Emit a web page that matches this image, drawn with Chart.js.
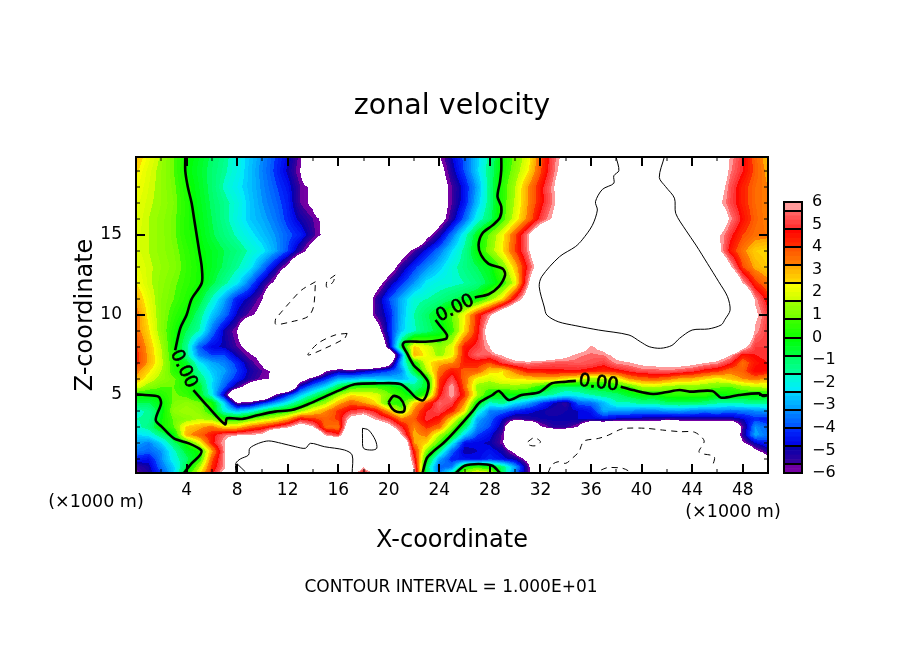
<!DOCTYPE html>
<html>
<head>
<meta charset="utf-8">
<style>
  html, body { margin: 0; background: #fff; }
  #wrap { position: relative; width: 904px; height: 654px; overflow: hidden; }
  canvas { position: absolute; display: block; }
</style>
<script src="https://cdn.jsdelivr.net/npm/chart.js@4"></script>
</head>
<body>
<div id="wrap">
  <canvas id="main" width="904" height="654" style="left:0;top:0"></canvas>
  <canvas id="bar" width="60" height="311" style="left:780px;top:182px"></canvas>
</div>
<script>
// velocity, node per km in x, beyond +-6 is left white
const xNodes = [0,1,2,3,4,5,6,7,8,9,10,11,12,13,14,15,16,17,18,19,20,21,22,23,24,25,26,27,28,29,30,31,32,33,34,35,36,37,38,39,40,41,42,43,44,45,46,47,48,49,50];
const zNodes = [0.125,0.5,1,1.5,2,2.5,3,3.5,4,4.5,5,5.5,6,6.5,7,7.5,8,9,10,11,12,13,14,15,16,17,18,19,19.875];

const rowZ00 = [-5.8,-5.2,-4,-2.5,0,2.2,4.5,6.5,9,9, 9,9,9,9,9,9,9,7,4.5,6.5, 9,9,6.1,-1,-3.5,-1.5,1.5,2.5,2,-1, -3.5,-5.5,-9,-9,-9,-9,-9,-9,-9,-9, -9,-9,-9,-9,-9,-9,-9,-9,-6.5,-5,-5];
const rowZ05 = [-5.5,-5,-3.6,-2.5,-.7,1.5,4.2,5.8,9,9, 9,9,9,9,9,9,9,9,6.1,9, 9,9,5.8,-1,-3.8,-3.5,0,.5,0,-1, -3,-5.5,-9,-9,-9,-9,-9,-9,-9,-9, -9,-9,-9,-9,-9,-9,-9,-9,-9,-9,-9];
const rowZ10 = [-4.3,-4.6,-3.3,-2,-1,.2,3.8,5.8,9,9, 9,9,9,9,9,9,9,9,9,9, 9,9,5,0,-3,-4.3,-4.5,-4.7,-4.2,-4.6, -5,-6.5,-9,-9,-9,-9,-9,-9,-9,-9, -9,-9,-9,-9,-9,-9,-9,-9,-9,-9,-6.2];
const rowZ15 = [-3.5,-3.7,-3.2,-1.8,-.5,0,3,5.8,9,9, 9,9,9,9,9,9,9,9,9,9, 9,9,4.4,1.2,-1.2,-3.7,-5,-4.8,-4.5,-5, -6.5,-9,-9,-9,-9,-9,-9,-9,-9,-9, -9,-9,-9,-9,-9,-9,-9,-9,-9,-6.3,-5.2];
const rowZ20 = [-3,-3.4,-2.5,-1,.2,2,4.5,6,9,9, 9,9,9,9,9,9,9,9,9,9, 9,9,3.2,2.5,.6,-2,-4.6,-4.7,-4.9,-5.8, -9,-9,-9,-9,-9,-9,-9,-9,-9,-9, -9,-9,-9,-9,-9,-9,-9,-9,-6.2,-4.8,-4.2];
const rowZ25 = [-2.5,-2.2,-1.2,-.2,3,3.7,4.5,5.5,5.8,6, 6.3,9,9,9,9,5.8,5,9,9,9, 9,6,3,3.4,1.6,0,-2.5,-4,-4.6,-5.7, -9,-9,-9,-9,-9,-9,-9,-9,-9,-9, -9,-9,-9,-9,-9,-9,-9,-9,-5.3,-3,-3.6];
const rowZ30 = [-1.8,-1.3,0,.8,2.6,3,3.5,2.5,2.6,3.6, 4.2,5,5.8,7,6.1,3.6,3.4,8,9,8, 6.6,4.9,3.2,4.2,3.6,1.2,-1,-3.3,-4,-5.2, -9,-9,-6.2,-5.3,-5.3,-6.1,-9,-9,-9,-9, -9,-9,-9,-9,-9,-9,-9,-9,-5.6,-3.2,-3.8];
const rowZ35 = [-1.6,-1.5,-.1,.9,1.2,1.6,1.3,.2,.2,.8, 1.5,2,3,4.7,4.2,3.7,4.1,6.5,7,5.8, 5,3.5,3.8,5,4.5,2.5,.3,-3,-3.7,-4.8, -5.6,-5.2,-5,-4.9,-4.9,-4.8,-4.8,-4.6,-4.9,-5, -5.1,-5.2,-5.4,-5.3,-5.2,-5.2,-5.2,-5.2,-4.8,-4.2,-4.4];
const rowZ40 = [-1.8,-1.5,-.3,1.3,1.6,1.3,.2,-1.9,-2.7,-2.1, -1,-.2,.2,1.3,2.4,3.2,4.2,4.9,5.3,4.6, 3,1.2,3.4,4.8,5.2,4.4,2.4,-1.6,-3.4,-3.6, -4.2,-4.6,-4.9,-5.2,-5,-4.8,-4.5,-3,-3.3,-3.2, -3.5,-3.4,-3.2,-3.1,-3.4,-3.5,-3.4,-3.6,-3.5,-3.3,-3.1];
const rowZ45 = [-.8,-.8,-.2,1,1.3,1,.1,-2.5,-5.9,-5.6, -4.3,-3.1,-2,-.9,.5,1.5,2.9,3.8,3.2,2.4, .5,.2,2.6,4,5.5,5.1,3.2,0,-1.8,-1.3, -2.3,-3,-4,-4.8,-5.4,-3.8,-3.6,-2.8,-1.7,-1.7, -1.3,-1.4,-1,-.9,-1,-1.1,-1.5,-1.5,-1.5,-1.3,-1.4];
const rowZ50 = [0,0,.3,.9,.6,-.3,-2,-5,-9,-9, -9,-6,-4.2,-2.6,-1.4,-.2,1.4,2.4,2.2,2, 1,.4,-.5,.6,4.6,5.9,4.2,1.6,0,-.4, -.1,-.5,-1.2,-1.6,-2.2,-2,-1.6,-1.2,-1.1,-.5, -.1,-.1,.3,.4,.4,.4,-.2,0,0,0,-.1];
const rowZ55 = [2,1.2,.8,.8,.3,-.3,-2.4,-3.8,-5.4,-7, -9,-9,-9,-4.6,-3.3,-2.3,-.8,.3,.7,.6, .3,-.3,-1.3,-.5,4.2,6,3.7,1.3,1,1.2, 1.3,1.1,.3,-.6,-1,-.9,-.3,-.4,.1,.6, 1.5,1.7,1.3,1.2,1.3,1,.9,.7,1.3,1.6,1.8];
const rowZ60 = [3,2,1.3,.9,.2,-1,-2.3,-3.4,-4.3,-5.2, -5.8,-6.2,-9,-7,-5.3,-4.2,-2.9,-2.8,-2.5,-2.6, -2.7,-2.8,-2.2,-.2,4,5.2,3.6,2.1,1.8,2.3, 2.4,2.5,2.8,2.8,2.3,2,1.3,1.5,1.9,3.2, 3.6,3.8,3.5,3,2.9,2.5,2.1,2.7,3.2,3.5,3];
const rowZ65 = [3.5,2.5,1.6,.4,-.1,-1.6,-2.6,-3.1,-4,-5, -5.6,-6.3,-9,-9,-9,-6.1,-5.2,-5.5,-5,-4.5, -4,-3.3,-.6,1.6,3.5,4.5,3.8,3.8,2.6,2.4, 3.5,4.5,4.5,4.6,4.7,4.7,4.5,4.2,4.5,4.9, 5.3,5.3,5.5,5.3,5,4.5,4.2,3.5,3.7,4.8,4.6];
const rowZ70 = [4.3,3,1.8,.3,-.4,-2.2,-3,-3.4,-4.2,-5.3, -6.2,-9,-9,-9,-9,-9,-9,-9,-9,-9, -7,-2.6,0,2.1,3,3.2,4.4,4.4,3.9,5, 5.6,5.7,5.5,5.3,5.3,5.4,5.3,5,5.7,5.9, 6.3,6.5,6.6,6.6,6.4,6,5.7,4.9,3.5,4.5,4.8];
const rowZ75 = [4.3,3,1.7,.2,-1.3,-3.4,-4,-4,-5,-5.9, -6.4,-9,-9,-9,-9,-9,-9,-9,-9,-9, -9,-3.5,3,2.2,1.3,2.1,4.6,5.5,5.4,6.1, 7,7.5,7.5,7,6.4,5.7,5.5,5.6,6.4,7, 9,9,9,9,9,8,7,6.1,4.5,4.8,5];
const rowZ80 = [4.2,2.9,1.6,.1,-1.4,-3.8,-4.7,-4.9,-5.6,-6.5, -9,-9,-9,-9,-9,-9,-9,-9,-9,-9, -5.2,-.5,2.6,2,1.2,2,4.5,5,6,9, 9,9,9,9,9,7,5.8,6.6,9,9, 9,9,9,9,9,9,9,9,6.5,5,5];
const rowZ90 = [3.6,2.5,1.2,.2,-.8,-1.6,-3.5,-5,-6,-9, -9,-9,-9,-9,-9,-9,-9,-9,-9,-7, -4.5,-2.6,-1.7,-1.1,-.5,.5,2.5,4.5,7,9, 9,9,9,9,9,9,9,9,9,9, 9,9,9,9,9,9,9,9,9,5.8,5];
const rowZ100 = [3.6,2.2,1.2,.5,-.1,-1.2,-2.6,-3.6,-4.9,-5.8, -6.5,-9,-9,-9,-9,-9,-9,-9,-7.5,-5.5, -4.5,-2.8,-1.6,-.9,-.2,.9,2.3,4.3,5.8,8, 9,9,9,9,9,9,9,9,9,9, 9,9,9,9,9,9,9,9,9,6.3,5];
const rowZ110 = [3,2,1.2,.8,.3,-.4,-1.7,-3,-4.4,-5, -6,-9,-9,-9,-9,-9,-9,-9,-7.5,-5.4, -4,-2.9,-1.8,-1.6,-1.3,-.9,-.5,-.1,1.2,2.5, 5,7,9,9,9,9,9,9,9,9, 9,9,9,9,9,9,9,9,9,5.8,4.4];
const rowZ120 = [2.4,1.7,1.3,.9,.5,.1,-.6,-1.4,-2.2,-3.6, -5,-6.3,-9,-9,-9,-9,-9,-9,-9,-6.8, -5.2,-4.2,-3.2,-2.2,-1.9,-1.8,-1.6,-1.2,-.6,.3, 2,5.7,9,9,9,9,9,9,9,9, 9,9,9,9,9,9,9,9,6,4.2,3.4];
const rowZ130 = [2.1,1.7,1.4,1.1,.6,.1,-.4,-.9,-1.5,-2.1, -3.4,-4.8,-6.3,-9,-9,-9,-9,-9,-9,-9, -7,-5.3,-4.2,-3.3,-2.6,-1.8,-1.3,-.8,-.3,1, 2.8,4.9,7,9,9,9,9,9,9,9, 9,9,9,9,9,9,9,6.3,4,3,2.6];
const rowZ140 = [1.9,1.6,1.3,1,.5,0,-.4,-.8,-1.2,-1.7, -2.2,-3,-4,-5.4,-6.9,-9,-9,-9,-9,-9, -9,-7,-5.6,-4.5,-3.5,-2.4,-1.4,-.1,1.2,2.4, 4,5.7,8,9,9,9,9,9,9,9, 9,9,9,9,9,9,6.5,4.5,3.4,2.6,2.4];
const rowZ150 = [1.9,1.6,1.3,.9,.3,-.1,-.7,-1.2,-1.7,-2.2, -2.7,-3.2,-3.8,-4.3,-5.4,-6.4,-9,-9,-9,-9, -9,-9,-9,-6.5,-5.1,-3.5,-1.9,-.3,1,2.2, 3.9,5.8,8,9,9,9,9,9,9,9, 9,9,9,9,9,9,6.3,5,4,3.5,3.4];
const rowZ160 = [2,1.6,1.3,.9,.3,-.2,-.8,-1.4,-2,-2.6, -3,-3.5,-4.2,-5,-5.6,-6.4,-9,-9,-9,-9, -9,-9,-9,-9,-6.8,-5.2,-3.7,-2,-1,.5, 2,3.4,5,6.2,9,9,9,9,9,9, 9,9,9,9,9,9,8,5.8,4.6,3.7,3.2];
const rowZ170 = [2.1,1.7,1.4,1,.3,-.3,-.9,-1.4,-1.9,-2.6, -3.2,-3.7,-4.3,-5.6,-6.3,-9,-9,-9,-9,-9, -9,-9,-9,-9,-7,-5.6,-4.4,-2.7,-1.2,.4, 1.7,3.2,4.5,5.7,7.5,9,9,9,9,9, 9,9,9,9,9,9,6.4,5.2,4.3,3.6,3.2];
const rowZ180 = [2.3,1.8,1.4,.9,.2,-.4,-1,-1.7,-2.2,-2.7, -3.3,-3.9,-4.5,-5.6,-6.3,-9,-9,-9,-9,-9, -9,-9,-9,-9,-7,-5.6,-4.5,-3,-1.2,.4, 1.6,3.2,4.5,5.8,8,9,9,9,9,9, 9,9,9,9,9,9,7,5.3,4.3,3.6,3.2];
const rowZ190 = [2.5,1.9,1.4,.8,0,-.5,-1,-1.5,-2,-2.7, -3.4,-4.1,-4.9,-6,-9,-9,-9,-9,-9,-9, -9,-9,-9,-9,-6.6,-5.1,-3.9,-2.5,-1.2,.1, 1.2,2.3,3.9,5.4,7,9,9,9,9,9, 9,9,9,9,9,9,8,5.7,4.8,3.8,3];
const rowZ199 = [2.8,2.1,1.5,.8,.1,-.4,-.9,-1.4,-2,-2.6, -3.3,-4,-4.7,-5.8,-9,-9,-9,-9,-9,-9, -9,-9,-9,-9,-6.1,-4.8,-3.8,-2.6,-1.3,0, 1,2,3.8,5.3,6.6,9,9,9,9,9, 9,9,9,9,9,9,9,5.9,4.9,3.7,2.8];
const fieldRows = [rowZ00,rowZ05,rowZ10,rowZ15,rowZ20,rowZ25,rowZ30,rowZ35,rowZ40,rowZ45,rowZ50,rowZ55,rowZ60,rowZ65,rowZ70,rowZ75,rowZ80,rowZ90,rowZ100,rowZ110,rowZ120,rowZ130,rowZ140,rowZ150,rowZ160,rowZ170,rowZ180,rowZ190,rowZ199];

// contour lines as [x, z]
const zeroTopLeft = [[3.9,19.875],[3.9,19],[4.1,18],[4.4,17],[4.6,16],[4.8,15],[5,14],[5.2,13],[5.2,12],[4.4,11],[4,10],[3.5,9.17],[3.1,7.8]];
const zeroWinding = [[4.54,5.31],[5.7,4.27],[7.05,3.17],[7.2,3.54],[8.4,3.5],[9.7,3.75],[11,3.96],[12.3,4.06],[13.6,4.42],[14.96,4.9],[16.3,5.37],[17.3,5.67],[19.2,5.73],[20.9,5.69],[21.55,5.31],[22.2,4.8],[22.75,4.69],[23.1,5.31],[23.1,5.83],[22.5,6.46],[21.95,6.88],[21.45,7.6],[21.1,8.12],[21.3,8.33],[22.9,8.33],[24.5,8.5],[24.6,8.75],[24,9.38],[23.7,9.69]];
const zeroUpper = [[26.8,11.1],[27.9,11.3],[28.7,11.77],[29.2,12.5],[29,12.9],[27.9,13.2],[27.3,13.75],[27.1,14.37],[27.4,15.1],[28.2,15.6],[28.8,16.1],[28.9,16.77],[28.6,17.4],[28.8,18.33],[28.9,19.06],[28.9,19.875]];
const zeroLowerLeft = [[0,5.04],[.71,5],[1.77,4.9],[1.98,4.48],[1.56,3.44],[2.03,3.02],[3,2.29],[4.17,1.98],[5.15,1.56],[5.07,1.25],[4.4,.73],[3.87,.2],[3.8,.125]];
const zeroRising = [[22.67,.125],[23,1.04],[23.5,1.46],[24.3,1.98],[25.2,2.71],[26.6,3.96],[27.2,4.54],[28.2,5],[28.7,5.25],[29.5,4.69],[30.5,5],[31.9,5.17],[32.9,5.73],[34,5.83],[34.8,5.88]];
const zeroRight = [[38.35,5.52],[39.3,5.31],[40.9,5.06],[41.9,5.17],[43,5.31],[43.8,5.21],[45.6,5.25],[46.3,4.83],[47.7,5],[49.3,5.1],[49.6,4.94],[50,5]];
const zeroRing = [[19.98,4.54],[20.37,4.94],[20.9,4.79],[21.25,4.27],[21.17,3.96],[20.64,3.96],[20.25,4.17],[19.98,4.54]];
const zeroBottom = [[25.3,.125],[26,.58],[27.1,.69],[28.2,.58],[28.8,.125]];
const plusBig = [[37.98,19.875],[38.2,19.02],[37.8,18.7],[37.8,18.23],[36.9,17.85],[36.35,17.08],[36.5,16.56],[36.1,15.6],[35.3,14.7],[34.76,14.27],[33.5,13.64],[32.1,12.4],[31.9,11.77],[32.3,10.5],[32.5,10],[33.4,9.58],[34.8,9.33],[36.6,9.06],[39,8.75],[39.9,8.33],[40.6,8.02],[41.5,7.92],[42.4,8.1],[43,8.54],[44,9.06],[45.3,9.13],[46.3,9.38],[46.6,9.73],[47,10.3],[46.8,11.14],[46.1,12.08],[45.2,13.23],[44.3,14.37],[43.5,15.3],[42.7,16.35],[42.6,17.3],[41.9,18.02],[41.4,18.6],[41.8,19.875]];
const plusBottom = [[7.9,.125],[7.9,.73],[8.25,1],[8.9,1.25],[9,1.67],[9.7,1.98],[10.5,2.13],[11.5,1.98],[12.6,1.77],[13.4,1.67],[13.8,1.98],[14.9,1.77],[16.5,1.56],[17.1,1.25],[17.1,.125]];
const plusStub = [[8,.7],[8.65,.2]];
const plusRing = [[17.92,2.92],[18.4,2.81],[18.93,2.19],[19.05,1.67],[18.66,1.56],[18,1.67],[17.92,2.29],[17.92,2.92]];
const minusA = [[14.2,12.08],[13.1,11.56],[12.1,10.73],[11.3,10],[11.06,9.79],[11.06,9.42],[12.3,9.58],[13.6,9.9],[14.04,10.5],[14.2,12.08]];
const minusB = [[15.76,12.5],[15.1,12.08],[15.1,11.73],[15.6,12.08],[15.76,12.5]];
const minusC = [[16.7,8.85],[15.75,8.75],[14.4,8.23],[13.6,7.5],[14.96,7.92],[16.5,8.54],[16.7,8.85]];
const minusD = [[32.6,.125],[32.9,.63],[33.4,.83],[34,.73],[34.5,1.04],[35.06,1.46],[35.2,1.77],[35.45,2.13],[36.6,2.29],[37.4,2.5],[38.2,2.81],[38.75,2.92],[40.3,2.92],[41.65,2.81],[43,2.71],[44.2,2.67],[44.95,2.13],[44.55,1.42],[45.74,1.15],[45.6,.52]];
const minusE = [[31,2.08],[31.5,2.33],[32,2.08],[31.6,1.83],[31.1,1.88],[31,2.08]];
const minusF = [[36.8,.31],[37.3,.46],[38.5,.42],[39.1,.2]];

const xTickValues = [4,8,12,16,20,24,28,32,36,40,44,48];
const zTickValues = [5,10,15];
const barTickValues = [-6,-5,-4,-3,-2,-1,0,1,2,3,4,5,6];
const barEdges = [-5.6,-4.8,-4,-3.2,-2.4,-1.6,-.8,0,.8,1.6,2.4,3.2,4,4.8,5.6];

// [value, x, z, rotation in degrees]
const contourLabels = [['0.00',3.75,6.63,64],['0.00',25.26,10.4,-27],['0.00',36.6,5.73,7]];

// colour of each colourbar cell, from low end to high end
const cellColors = [
  [[120,0,165],[106,0,160]],[[58,0,153],[0,0,176]],[[0,0,230],[0,48,255]],[[0,80,255],[0,144,255]],
  [[0,156,255],[0,216,255]],[[0,234,255],[0,255,200]],[[0,255,153],[0,255,96]],[[0,255,64],[0,255,0]],
  [[16,255,0],[64,255,0]],[[112,255,0],[160,255,0]],[[204,255,0],[255,255,0]],[[255,220,0],[255,165,0]],
  [[255,128,0],[255,80,0]],[[255,48,0],[255,0,0]],[[255,42,42],[255,106,106]],[[255,154,154],[255,154,154]]
];

const bandStep = 0.2;
const bandCount = 60;
const cellLows = [-6].concat(barEdges);
const cellHighs = barEdges.concat([6]);

function bandColor(i) {
  const mid = -6 + (i + 0.5) * bandStep;
  let c = 0;
  while (c < cellHighs.length - 1 && mid > cellHighs[c]) c++;
  const t = (mid - cellLows[c]) / (cellHighs[c] - cellLows[c]);
  const a = cellColors[c][0], b = cellColors[c][1];
  return [0,1,2].map(k => Math.round(a[k] + (b[k] - a[k]) * t));
}
const palette = [];
for (let i = 0; i < bandCount; i++) palette.push(bandColor(i));

function findCell(nodes, v) {
  let i = 0;
  while (i < nodes.length - 2 && v > nodes[i + 1]) i++;
  return i;
}

const FONT = 'DejaVu Sans';

// filled contours, coloured pixel by pixel from the node values
const fieldPlugin = {
  id: 'field',
  beforeDatasetsDraw(chart) {
    const { ctx, chartArea: a, scales } = chart;
    const w = Math.round(a.right - a.left), h = Math.round(a.bottom - a.top);
    const off = document.createElement('canvas');
    off.width = w; off.height = h;
    const octx = off.getContext('2d');
    const img = octx.createImageData(w, h);
    for (let py = 0; py < h; py++) {
      const z = scales.y.getValueForPixel(a.top + py + 0.5);
      const r = findCell(zNodes, z);
      const tz = (z - zNodes[r]) / (zNodes[r + 1] - zNodes[r]);
      for (let px = 0; px < w; px++) {
        const x = scales.x.getValueForPixel(a.left + px + 0.5);
        const c = findCell(xNodes, x);
        const tx = (x - xNodes[c]) / (xNodes[c + 1] - xNodes[c]);
        const low = fieldRows[r][c] * (1 - tx) + fieldRows[r][c + 1] * tx;
        const high = fieldRows[r + 1][c] * (1 - tx) + fieldRows[r + 1][c + 1] * tx;
        const v = low * (1 - tz) + high * tz;
        if (v < -6 || v > 6) continue;
        const col = palette[Math.min(bandCount - 1, Math.floor((v + 6) / bandStep))];
        const o = (py * w + px) * 4;
        img.data[o] = col[0]; img.data[o + 1] = col[1]; img.data[o + 2] = col[2]; img.data[o + 3] = 255;
      }
    }
    octx.putImageData(img, 0, 0);
    ctx.drawImage(off, a.left, a.top);
  }
};

// frame, inward tick marks and the loose texts
const framePlugin = {
  id: 'frame',
  afterDraw(chart) {
    const { ctx, chartArea: a, scales } = chart;
    ctx.save();
    ctx.strokeStyle = '#000';
    for (let v = 2; v < 50; v += 2) {
      const big = v % 4 === 0, len = big ? 9 : 4, x = Math.round(scales.x.getPixelForValue(v));
      ctx.lineWidth = big ? 2 : 1;
      ctx.beginPath();
      ctx.moveTo(x, a.bottom); ctx.lineTo(x, a.bottom - len);
      ctx.moveTo(x, a.top); ctx.lineTo(x, a.top + len);
      ctx.stroke();
    }
    for (let v = 1; v < 20; v++) {
      const big = v % 5 === 0, len = big ? 9 : 4, y = Math.round(scales.y.getPixelForValue(v));
      ctx.lineWidth = big ? 2 : 1;
      ctx.beginPath();
      ctx.moveTo(a.left, y); ctx.lineTo(a.left + len, y);
      ctx.moveTo(a.right, y); ctx.lineTo(a.right - len, y);
      ctx.stroke();
    }
    ctx.lineWidth = 2;
    ctx.strokeRect(a.left, a.top, a.right - a.left, a.bottom - a.top);

    ctx.fillStyle = '#000';
    ctx.textAlign = 'center';
    ctx.textBaseline = 'middle';
    ctx.font = '18px "' + FONT + '"';
    ctx.lineWidth = 0.7;
    contourLabels.forEach(l => {
      ctx.save();
      ctx.translate(scales.x.getPixelForValue(l[1]), scales.y.getPixelForValue(l[2]));
      ctx.rotate(l[3] * Math.PI / 180);
      ctx.fillText(l[0], 0, 0);
      ctx.strokeText(l[0], 0, 0);
      ctx.restore();
    });
    ctx.font = '17.5px "' + FONT + '"';
    ctx.fillText('(\u00d71000 m)', 96, 502);
    ctx.fillText('(\u00d71000 m)', 733, 512);
    ctx.font = '17px "' + FONT + '"';
    ctx.fillText('CONTOUR INTERVAL = 1.000E+01', 451, 588);
    ctx.restore();
  }
};

function toPoints(line) {
  return line.map(p => ({ x: p[0], y: p[1] }));
}
function contour(line, kind) {
  return {
    data: toPoints(line),
    showLine: true,
    pointRadius: 0,
    borderColor: '#000',
    borderWidth: kind === 'zero' ? 2.6 : 1,
    borderDash: kind === 'minus' ? [6, 5] : [],
    tension: 0.3
  };
}

new Chart(document.getElementById('main'), {
  type: 'scatter',
  data: {
    datasets: [
      contour(zeroTopLeft, 'zero'), contour(zeroWinding, 'zero'), contour(zeroUpper, 'zero'),
      contour(zeroLowerLeft, 'zero'), contour(zeroRising, 'zero'), contour(zeroRight, 'zero'),
      contour(zeroRing, 'zero'), contour(zeroBottom, 'zero'),
      contour(plusBig, 'plus'), contour(plusBottom, 'plus'), contour(plusStub, 'plus'), contour(plusRing, 'plus'),
      contour(minusA, 'minus'), contour(minusB, 'minus'), contour(minusC, 'minus'),
      contour(minusD, 'minus'), contour(minusE, 'minus'), contour(minusF, 'minus')
    ]
  },
  options: {
    responsive: false,
    devicePixelRatio: 1,
    animation: false,
    layout: { autoPadding: false, padding: { left: 0, right: 0, top: 0, bottom: 81 } },
    plugins: {
      legend: { display: false },
      tooltip: { enabled: false },
      title: {
        display: true,
        text: 'zonal velocity',
        color: '#000',
        font: { family: FONT, size: 28.5, weight: 'normal', lineHeight: 1.2 },
        padding: { top: 89, bottom: 33.8 }
      }
    },
    scales: {
      x: {
        type: 'linear', min: 0, max: 50,
        grid: { display: false, drawTicks: false },
        border: { display: false },
        afterBuildTicks: s => { s.ticks = xTickValues.map(v => ({ value: v })); },
        afterFit: s => { s.height = 100; },
        ticks: { color: '#000', padding: 7, maxRotation: 0, autoSkip: false, font: { family: FONT, size: 17 } },
        title: {
          display: true, text: 'X-coordinate', color: '#000',
          font: { family: FONT, size: 24, lineHeight: 1.2 },
          padding: { top: 0, bottom: 18 }
        }
      },
      y: {
        type: 'linear', min: 0.125, max: 19.875,
        grid: { display: false, drawTicks: false },
        border: { display: false },
        afterBuildTicks: s => { s.ticks = zTickValues.map(v => ({ value: v })); },
        afterFit: s => { s.width = 136; },
        ticks: { color: '#000', padding: 14, font: { family: FONT, size: 17 } },
        title: {
          display: true, text: 'Z-coordinate', color: '#000',
          font: { family: FONT, size: 24, lineHeight: 1.2 },
          padding: { top: 71, bottom: 0 }
        }
      },
      // empty axis only to hold the room for the colourbar, so the title centres on the page
      side: {
        type: 'linear', position: 'right', min: 0, max: 1,
        grid: { display: false, drawTicks: false },
        border: { display: false },
        ticks: { display: false },
        afterFit: s => { s.width = 136; }
      }
    }
  },
  plugins: [fieldPlugin, framePlugin]
});

// colourbar, one floating bar per colour band
const barSeparators = {
  id: 'barSeparators',
  afterDatasetsDraw(chart) {
    const { ctx, chartArea: a, scales } = chart;
    ctx.save();
    ctx.strokeStyle = '#000';
    ctx.lineWidth = 2;
    barEdges.forEach(v => {
      const y = Math.round(scales.y.getPixelForValue(v));
      ctx.beginPath(); ctx.moveTo(a.left, y); ctx.lineTo(a.right, y); ctx.stroke();
    });
    ctx.strokeRect(a.left, a.top, a.right - a.left, a.bottom - a.top);
    ctx.restore();
  }
};
new Chart(document.getElementById('bar'), {
  type: 'bar',
  data: {
    labels: [''],
    datasets: palette.map((c, i) => ({
      data: [[-6 + i * bandStep, -6 + (i + 1) * bandStep]],
      backgroundColor: 'rgb(' + c.join(',') + ')',
      grouped: false,
      barPercentage: 1,
      categoryPercentage: 1
    }))
  },
  options: {
    responsive: false,
    devicePixelRatio: 1,
    animation: false,
    layout: { autoPadding: false, padding: { left: 4, right: 0, top: 20, bottom: 20 } },
    plugins: { legend: { display: false }, tooltip: { enabled: false } },
    scales: {
      x: { display: false },
      y: {
        position: 'right', min: -6, max: 6,
        grid: { display: false, drawTicks: false },
        border: { display: false },
        afterBuildTicks: s => { s.ticks = barTickValues.map(v => ({ value: v })); },
        afterFit: s => { s.width = 38; },
        ticks: {
          color: '#000', padding: 10, autoSkip: false,
          font: { family: FONT, size: 16 },
          callback: v => String(v).replace('-', '\u2212')
        }
      }
    }
  },
  plugins: [barSeparators]
});
</script>
</body>
</html>
